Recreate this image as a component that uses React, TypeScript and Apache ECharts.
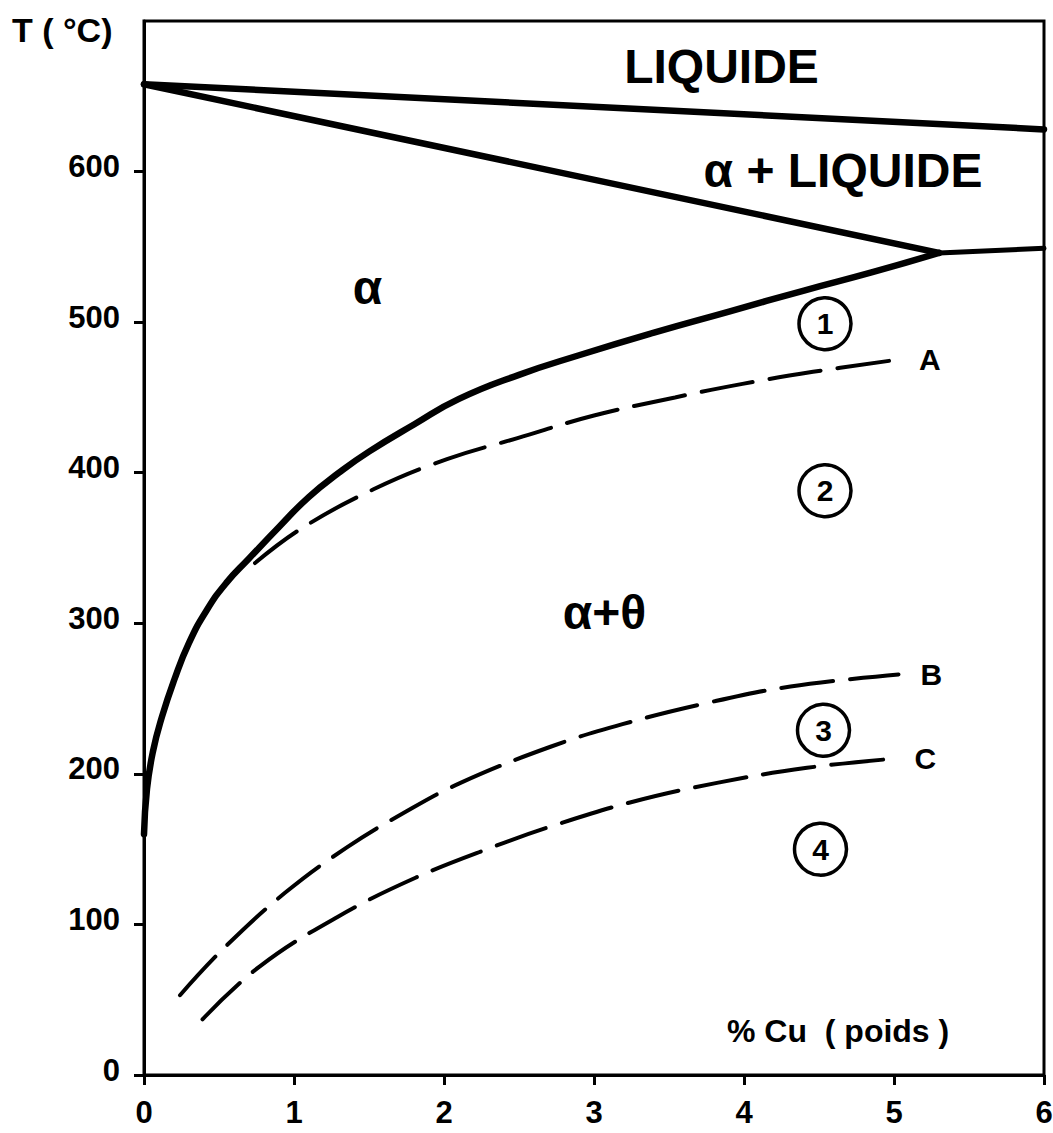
import React, { useEffect, useRef } from 'react';
import * as echarts from 'echarts';

// ---- data ----
const xTickValues = [0, 1, 2, 3, 4, 5, 6];
const yTickValues = [0, 100, 200, 300, 400, 500, 600];

const liquidusCu = [0, 6];
const liquidusT = [658, 628];

const solidusCu = [0, 5.3];
const solidusT = [658, 546];

const eutecticCu = [5.3, 6];
const eutecticT = [546, 549];

const solvusCu = [0, 0.02, 0.06, 0.12, 0.2, 0.3, 0.42, 0.55, 0.7, 0.9, 1.1, 1.3, 1.5, 1.8, 2.1, 2.5, 2.9, 3.4, 3.9, 4.4, 4.85, 5.3];
const solvusT = [160, 190, 215, 238, 262, 287, 309, 327, 343, 364, 384, 400, 414, 432, 449, 465, 478, 493, 507, 521, 533, 546];

const curveACu = [0.74, 1.05, 1.53, 2.02, 2.49, 3.0, 3.54, 3.99, 4.46, 5.02];
const curveAT = [340, 363, 389, 409, 423, 438, 450, 459, 467, 475];

const curveBCu = [0.24, 0.53, 0.94, 1.35, 1.73, 2.11, 2.71, 3.19, 3.75, 4.31, 5.03];
const curveBT = [53, 84, 121, 151, 174, 194, 218, 233, 247, 258, 266];

const curveCCu = [0.39, 0.77, 1.29, 1.81, 2.34, 2.71, 3.24, 3.82, 4.42, 4.99];
const curveCT = [37, 72, 105, 131, 152, 165, 181, 194, 204, 210];

const regionNames = ['LIQUIDE', 'α + LIQUIDE', 'α', 'α+θ'];
const regionCu = [3.85, 4.66, 1.49, 3.07];
const regionT = [670, 601, 523, 307];

const zoneNames = ['1', '2', '3', '4'];
const zoneCu = [4.54, 4.54, 4.53, 4.51];
const zoneT = [499, 388, 229, 150];

const FONT = '"Liberation Sans", Arial, sans-serif';

const zip = (xs: number[], ys: number[]) => xs.map((x, i) => [x, ys[i]]);

export default function App() {
  const ref = useRef<HTMLDivElement>(null);

  useEffect(() => {
    if (!ref.current) return;
    const chart = echarts.init(ref.current, null, { renderer: 'svg' });

    const solid = (name: string, xs: number[], ys: number[], width: number, smooth: number | boolean) => ({
      type: 'line',
      name,
      data: zip(xs, ys),
      symbol: 'none',
      smooth,
      lineStyle: { color: '#000', width, cap: 'round', join: 'round' },
      z: 3,
    });

    const dashed = (name: string, xs: number[], ys: number[]) => ({
      type: 'line',
      name,
      data: zip(xs, ys),
      symbol: 'none',
      smooth: 0.4,
      lineStyle: { color: '#000', width: 4, type: [52, 17], cap: 'round' },
      endLabel: {
        show: true,
        formatter: name,
        distance: 22,
        fontSize: 30,
        fontWeight: 'bold',
        fontFamily: FONT,
        color: '#000',
      },
      z: 3,
    });

    const option: any = {
      animation: false,
      backgroundColor: '#fff',
      grid: {
        left: 144,
        right: 9,
        top: 21,
        bottom: 58,
        show: true,
        borderColor: '#000',
        borderWidth: 3,
        backgroundColor: 'transparent',
        containLabel: false,
        outerBoundsMode: 'none',
      },
      xAxis: {
        type: 'value',
        min: 0,
        max: 6,
        interval: 1,
        axisLine: { show: true, lineStyle: { color: '#000', width: 3 } },
        axisTick: { show: true, length: 10, inside: false, lineStyle: { color: '#000', width: 3 } },
        axisLabel: {
          show: true,
          margin: 22,
          fontSize: 31,
          fontWeight: 'bold',
          fontFamily: FONT,
          color: '#000',
          customValues: xTickValues,
        },
        splitLine: { show: false },
      },
      yAxis: {
        type: 'value',
        min: 0,
        max: 700,
        interval: 100,
        axisLine: { show: true, lineStyle: { color: '#000', width: 3 } },
        axisTick: {
          show: true,
          length: 10,
          inside: false,
          lineStyle: { color: '#000', width: 3 },
          customValues: yTickValues,
        },
        axisLabel: {
          show: true,
          margin: 24,
          fontSize: 31,
          fontWeight: 'bold',
          fontFamily: FONT,
          color: '#000',
          verticalAlign: 'bottom',
          lineHeight: 10,
          customValues: yTickValues,
        },
        splitLine: { show: false },
      },
      graphic: [
        {
          type: 'text',
          left: 12,
          top: 13,
          style: {
            text: 'T ( °C)',
            font: `bold 34px ${FONT}`,
            fill: '#000',
          },
        },
        {
          type: 'text',
          left: 727,
          top: 1015,
          style: {
            text: '% Cu  ( poids )',
            font: `bold 32px ${FONT}`,
            fill: '#000',
          },
        },
      ],
      series: [
        solid('liquidus', liquidusCu, liquidusT, 6.5, false),
        solid('solidus', solidusCu, solidusT, 6.5, false),
        solid('eutectic', eutecticCu, eutecticT, 5, false),
        solid('solvus', solvusCu, solvusT, 6.5, 0.5),
        dashed('A', curveACu, curveAT),
        dashed('B', curveBCu, curveBT),
        dashed('C', curveCCu, curveCT),
        {
          type: 'scatter',
          name: 'zones',
          data: zoneCu.map((x, i) => [x, zoneT[i], zoneNames[i]]),
          symbol: 'circle',
          symbolSize: 52,
          itemStyle: { color: '#fff', borderColor: '#000', borderWidth: 3.5, opacity: 1 },
          label: {
            show: true,
            position: 'inside',
            formatter: (p: any) => p.data[2],
            fontSize: 30,
            fontWeight: 'bold',
            fontFamily: FONT,
            color: '#000',
            textBorderWidth: 0,
          },
          z: 4,
        },
        {
          type: 'scatter',
          name: 'regions',
          data: regionCu.map((x, i) => [x, regionT[i], regionNames[i]]),
          symbol: 'circle',
          symbolSize: 0,
          itemStyle: { color: 'transparent', opacity: 1 },
          label: {
            show: true,
            position: 'inside',
            formatter: (p: any) => p.data[2],
            fontSize: 48,
            fontWeight: 'bold',
            fontFamily: FONT,
            color: '#000',
            textBorderWidth: 0,
          },
          z: 4,
        },
      ],
    };

    chart.setOption(option);
    return () => chart.dispose();
  }, []);

  return (
    <div
      ref={ref}
      style={{ position: 'absolute', left: 0, top: 0, width: 1053, height: 1133, background: '#fff' }}
    />
  );
}
